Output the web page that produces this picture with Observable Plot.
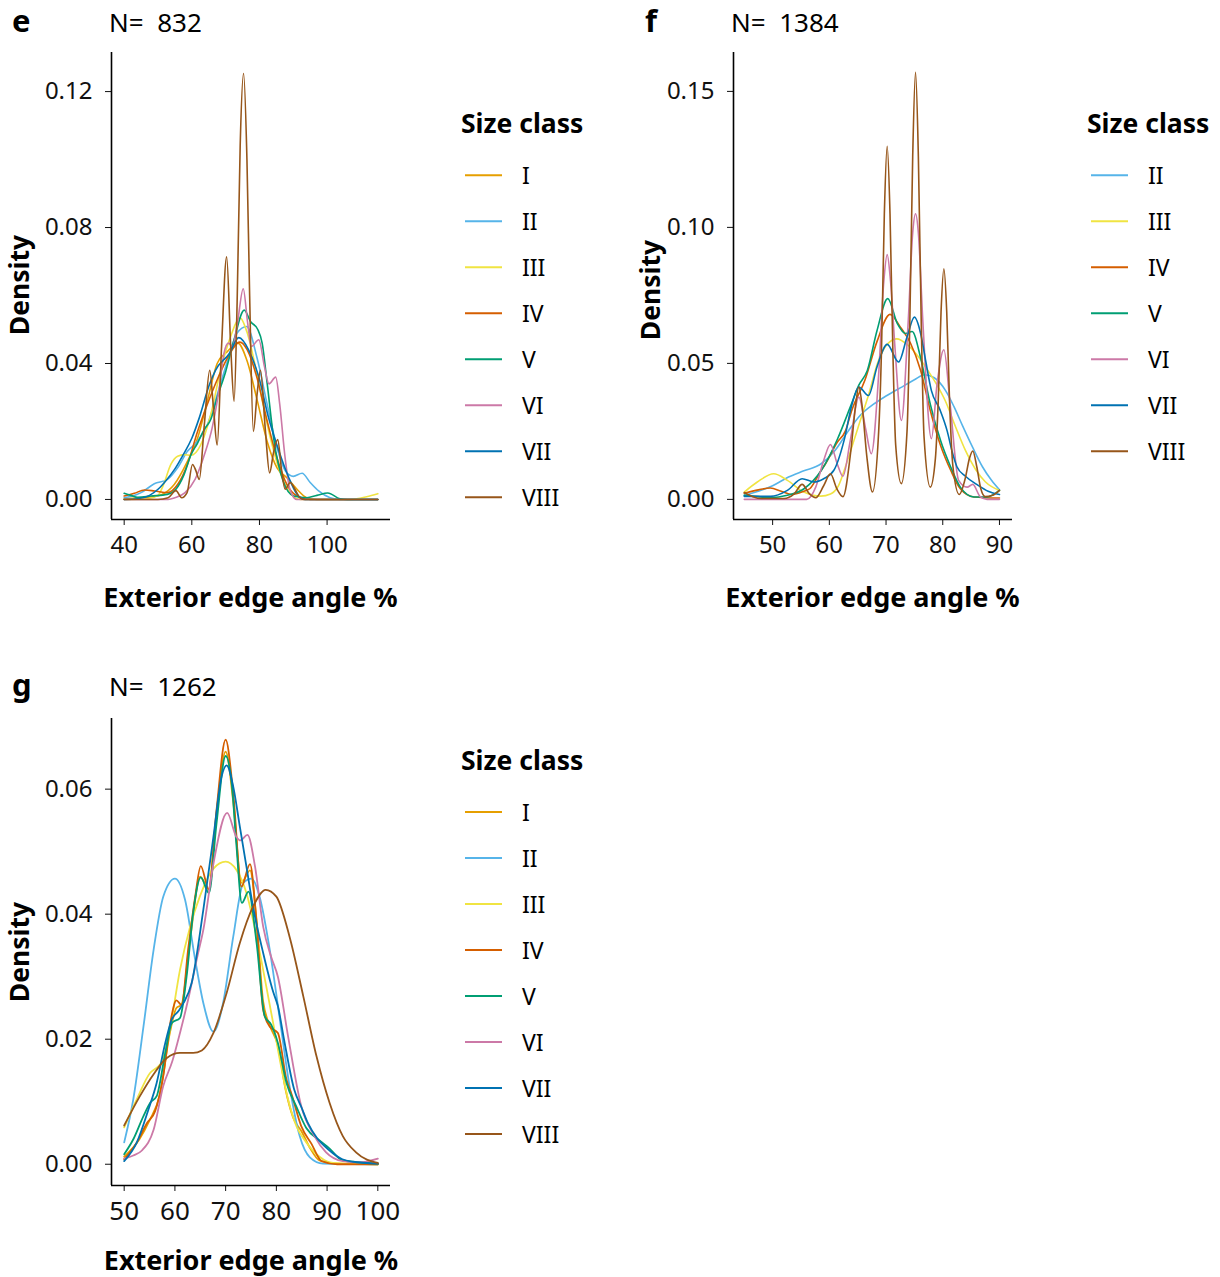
<!DOCTYPE html>
<html><head><meta charset="utf-8">
<script src="https://cdn.jsdelivr.net/npm/d3@7"></script>
<script src="https://cdn.jsdelivr.net/npm/@observablehq/plot@0.6"></script>
<style>
body{margin:0;background:#fff;}
#page{position:relative;width:1220px;height:1277px;overflow:hidden;background:#fff;}
#page svg{position:absolute;}
</style></head><body><div id="page"></div>
<script>
// ---------- categories & colours ----------
const sizeClasses = ["I","II","III","IV","V","VI","VII","VIII"];
const classColors = ["#E69F00","#56B4E9","#F0E442","#D55E00","#009E73","#CC79A7","#0072B2","#97561A"];

// ---------- panel e (N = 832) : [angle, density] ----------
const e_I = [[40,0.0003],[45,0.0004],[48,0.0008],[51,0.0014],[54.8,0.0044],[58.7,0.0112],[61.7,0.018],[64.6,0.029],[67.5,0.040],[70.5,0.0435],[73.6,0.046],[76.4,0.0406],[79.3,0.0293],[82.3,0.017],[85.2,0.0093],[88.1,0.0064],[91.1,0.003],[94,0.0005],[97,0],[115,0]];
const e_II = [[40,0.0005],[42.5,0.001],[45,0.002],[48.9,0.0046],[52.8,0.0059],[55.8,0.0093],[58.7,0.0142],[61.7,0.0171],[64.6,0.022],[67.5,0.0308],[70.5,0.0406],[73.4,0.049],[76.2,0.0509],[79.3,0.0416],[82.3,0.0279],[85.2,0.0152],[87.8,0.0082],[90,0.0068],[92.6,0.0077],[95,0.005],[97.5,0.0025],[100.9,0.0005],[104,0],[115,0]];
const e_III = [[40,0],[47,0.0002],[50,0.0012],[51.5,0.004],[53.8,0.0103],[55.8,0.0127],[57.8,0.0132],[59.7,0.013],[62.6,0.016],[65.6,0.025],[68.5,0.038],[71.5,0.048],[74.2,0.0535],[76.4,0.049],[79.3,0.0367],[82.3,0.022],[85.2,0.0108],[88.1,0.0034],[92,0],[107,0],[111.7,0.0008],[115,0.0017]];
const e_IV = [[40,0.001],[43,0.0018],[46,0.0028],[49,0.0025],[52.8,0.002],[55.8,0.0044],[58.7,0.0103],[61.7,0.020],[64.6,0.028],[67.5,0.0352],[70.5,0.0416],[74.2,0.0463],[76.4,0.044],[79.3,0.0357],[82.3,0.023],[85.2,0.0122],[88.1,0.0044],[91.1,0.001],[95,0],[115,0]];
const e_V = [[40,0.0018],[42,0.0012],[44,0.0006],[47.9,0.001],[52.8,0.0015],[55.3,0.003],[57.7,0.0073],[59.7,0.013],[61.7,0.0166],[63.6,0.0205],[65.6,0.0235],[67.5,0.030],[70,0.0376],[72.5,0.047],[75.5,0.0557],[77.4,0.0523],[79.5,0.050],[80.8,0.046],[82.3,0.034],[84.2,0.018],[87,0.0054],[90.1,0.001],[94,0.0005],[97,0.0012],[100.2,0.0019],[103.8,0.0002],[106,0],[115,0]];
const e_VI = [[40,0],[53,0],[55,0.0005],[58,0.002],[61,0.006],[64,0.014],[66,0.021],[68,0.032],[69.5,0.043],[70.8,0.046],[72,0.045],[73.5,0.052],[75.2,0.062],[76.5,0.052],[77.6,0.045],[79.8,0.047],[81.5,0.039],[82.8,0.034],[84.8,0.036],[86,0.028],[87.5,0.013],[89,0.003],[91,0],[115,0]];
const e_VII = [[40,0],[44,0.0002],[47.5,0.0012],[50,0.003],[52.4,0.0056],[55,0.009],[57.3,0.0129],[60,0.018],[62.2,0.024],[65.1,0.0335],[67,0.038],[71,0.0428],[73.9,0.0476],[76.9,0.0438],[79.8,0.036],[82.7,0.024],[85.7,0.0144],[88.6,0.0066],[91,0.0017],[93.5,0],[115,0]];
const e_VIII = [[40,0],[50,0],[53,0.0005],[55.3,0.0026],[57,0.0005],[58.6,0.002],[60.2,0.0103],[61.2,0.0085],[62.2,0.0059],[63.7,0.022],[65.3,0.038],[66.4,0.027],[67.5,0.016],[68.8,0.045],[70.3,0.0714],[71.5,0.045],[72.5,0.0289],[73.4,0.058],[74.3,0.104],[75.3,0.1253],[76.3,0.1],[77.1,0.06],[78.2,0.020],[79.3,0.031],[80.3,0.038],[81.7,0.021],[83,0.0078],[84.2,0.014],[85.4,0.0176],[86.5,0.009],[87.6,0.003],[89.1,0.005],[90.5,0.003],[92,0.0005],[93.5,0],[115,0]];

// ---------- panel f (N = 1384) ----------
const f_II = [[45,0.0015],[47.5,0.003],[50,0.005],[52.8,0.0082],[55.5,0.0105],[58.5,0.013],[61,0.018],[63.3,0.025],[65.5,0.031],[67.8,0.035],[70,0.038],[72.5,0.041],[75,0.044],[76.8,0.0458],[78.5,0.0447],[80.5,0.040],[82,0.034],[83.5,0.027],[85.3,0.019],[87,0.012],[88.6,0.007],[90,0.0035]];
const f_III = [[45,0.0027],[47.3,0.0064],[50.2,0.0094],[52.6,0.007],[55.5,0.0027],[58.5,0.0012],[60.2,0.002],[61.6,0.005],[63,0.013],[65,0.026],[67,0.039],[68.5,0.050],[70.2,0.057],[71.9,0.059],[73.7,0.057],[75.5,0.053],[77.5,0.047],[79,0.042],[80.5,0.036],[82.2,0.027],[84,0.018],[85.8,0.011],[87.5,0.0065],[90,0.0033]];
const f_IV = [[45,0.0022],[47.5,0.0035],[49.6,0.0042],[51.5,0.003],[53.4,0.0018],[55.5,0.003],[56.6,0.004],[58.5,0.0105],[59.3,0.013],[61.4,0.021],[62.8,0.025],[64,0.033],[66.3,0.044],[68.4,0.058],[70.7,0.068],[72.5,0.0634],[74.3,0.0575],[76.1,0.0474],[77.8,0.0327],[79.6,0.0199],[81.4,0.0107],[83.1,0.0039],[85.5,0.0009],[90,0.0005]];
const f_V = [[45,0.0015],[47.5,0.001],[49.6,0.0006],[52.6,0.0015],[55.6,0.004],[58.6,0.0107],[61.4,0.022],[63.7,0.034],[65.2,0.042],[66.7,0.0474],[68.4,0.062],[70.3,0.0738],[72,0.0646],[73.4,0.061],[74.6,0.0617],[76.1,0.052],[77.8,0.035],[79.6,0.0217],[81.4,0.0119],[83.1,0.0045],[85.5,0.0009],[87.8,0.0009],[90,0.0033]];
const f_VI = [[45,0],[56,0],[57.6,0.0045],[59,0.0143],[60.2,0.0202],[61.4,0.013],[62.4,0.0085],[63.7,0.0217],[65.2,0.0376],[66.4,0.026],[67.4,0.0168],[68.7,0.046],[69.6,0.08],[70.2,0.090],[70.8,0.08],[71.6,0.055],[72.7,0.029],[73.9,0.065],[74.7,0.098],[75.2,0.105],[75.7,0.098],[76.5,0.065],[78,0.0223],[79,0.0425],[80.2,0.055],[81.3,0.035],[82.8,0.007],[84.3,0.0045],[85.3,0.0055],[86.6,0.001],[87.8,0],[90,0]];
const f_VII = [[45,0.0011],[49.6,0.0011],[52.6,0.0033],[55.2,0.0076],[57.3,0.0064],[59,0.0076],[60.8,0.0107],[62.6,0.0217],[64,0.035],[65.2,0.0413],[66.9,0.0382],[68.4,0.0487],[70.2,0.057],[72.2,0.0505],[73.7,0.0597],[75,0.067],[76.1,0.061],[76.9,0.052],[78,0.040],[79.5,0.033],[80.8,0.025],[81.6,0.018],[82.5,0.012],[84,0.0085],[86,0.0055],[88,0.003],[90,0.0018]];
const f_VIII = [[45,0.0025],[46.5,0.001],[48,0.0003],[52,0.0003],[53.8,0.002],[55.2,0.0055],[56.5,0.002],[57.6,0.0006],[59,0.005],[60.2,0.0094],[61.3,0.004],[62.4,0.001],[63.8,0.018],[64.6,0.034],[65.2,0.0413],[65.8,0.034],[66.6,0.016],[67.6,0.0027],[68.7,0.025],[69.2,0.055],[69.7,0.105],[70.2,0.1298],[70.7,0.105],[71.2,0.055],[71.7,0.02],[72.7,0.0058],[73.7,0.025],[74.2,0.066],[74.7,0.126],[75.2,0.157],[75.7,0.126],[76.2,0.066],[76.7,0.023],[77.8,0.0045],[78.7,0.015],[79.2,0.036],[79.7,0.069],[80.2,0.0848],[80.7,0.069],[81.2,0.036],[81.8,0.012],[82.9,0.0018],[84,0.008],[84.7,0.015],[85.3,0.0178],[86,0.012],[86.7,0.004],[87.5,0.001],[88.8,0.0015],[90,0.0033]];

// ---------- panel g (N = 1262) ----------
const g_I = [[50,0.0012],[53,0.004],[55,0.007],[57,0.011],[59,0.021],[60.3,0.025],[61.3,0.0255],[63,0.036],[65,0.046],[66.6,0.044],[68.2,0.056],[70,0.066],[71.5,0.058],[73.1,0.045],[74.8,0.047],[76.1,0.039],[77.4,0.026],[78.8,0.022],[80.3,0.019],[81.8,0.012],[83.3,0.0075],[85,0.0052],[86.7,0.0025],[88.5,0.0006],[92,0.0001],[100,0]];
const g_II = [[50,0.0035],[51.8,0.0104],[53.8,0.022],[55.8,0.0343],[57.7,0.0428],[60,0.0457],[62,0.0423],[64,0.0327],[65.6,0.0258],[67.6,0.0212],[69.5,0.0258],[71.5,0.0364],[73.5,0.045],[75.1,0.0457],[76.7,0.0428],[78.7,0.0343],[80.7,0.0231],[82.6,0.0125],[84.6,0.0045],[86.6,0.0011],[89.2,0.0001],[100,0]];
const g_III = [[50,0.0059],[52.5,0.0104],[55.1,0.0146],[56.5,0.0155],[57.5,0.0165],[59,0.0215],[61,0.0311],[63,0.038],[64.9,0.0428],[67.6,0.0473],[70,0.0484],[72.1,0.0471],[74.1,0.0434],[76.1,0.0364],[78,0.0285],[79.5,0.022],[80.5,0.0175],[82.3,0.0104],[84,0.006],[85.9,0.0035],[88.5,0.0012],[91.2,0.0002],[100,0]];
const g_IV = [[50,0.0008],[52.5,0.0035],[54.5,0.0066],[56.1,0.0085],[57.7,0.0141],[59.2,0.0231],[60.3,0.0262],[61.3,0.0255],[62.6,0.0343],[64,0.0428],[65.1,0.0477],[66.7,0.0439],[68.2,0.0566],[70,0.0679],[71.5,0.0593],[73.1,0.0444],[74.8,0.048],[76.1,0.0386],[77.4,0.0247],[78.7,0.022],[80.3,0.021],[82,0.0135],[83,0.0112],[84.9,0.0061],[86.9,0.0033],[88.9,0.0005],[92,0],[100,0]];
const g_V = [[50,0.0016],[51.8,0.004],[53.8,0.0077],[55.2,0.0099],[56.4,0.0109],[58.1,0.0178],[59.4,0.0226],[61,0.0234],[62.3,0.030],[63.6,0.0402],[65.1,0.0459],[66.7,0.0434],[68.2,0.0545],[70,0.0653],[71.2,0.0609],[72.1,0.0513],[73.2,0.0418],[74.5,0.0436],[76.1,0.0354],[77.7,0.0237],[79,0.0223],[80.3,0.0194],[82,0.013],[83.9,0.0093],[85.9,0.0058],[88.5,0.0038],[90.5,0.0025],[93.1,0.0006],[100,0.0001]];
const g_VI = [[50,0.0009],[51.8,0.0014],[53.5,0.0022],[55.8,0.0055],[57.7,0.0125],[59.5,0.0165],[61,0.021],[62.6,0.0263],[64.5,0.0335],[65.6,0.0375],[67.6,0.0481],[70.3,0.0562],[72.1,0.0524],[72.9,0.0518],[74.3,0.0527],[75.8,0.0476],[77.4,0.038],[79,0.0331],[80.3,0.030],[82.3,0.0205],[84.9,0.0093],[87.5,0.0045],[89.8,0.0019],[93.1,0.0005],[96.4,0.0003],[100,0.0009]];
const g_VII = [[50,0.0005],[52.5,0.0035],[54.8,0.0088],[56.4,0.013],[58.1,0.0194],[59.3,0.023],[60.7,0.0245],[61.7,0.0258],[63.3,0.029],[65.6,0.0407],[67.6,0.0524],[69.2,0.062],[70.2,0.0638],[71.5,0.0604],[72.8,0.054],[74.1,0.0476],[75.4,0.0412],[77.4,0.0338],[79.4,0.0275],[80.3,0.0253],[81.5,0.02],[83.5,0.012],[85,0.009],[86.2,0.0066],[88,0.0042],[90.2,0.0024],[93,0.0008],[95.1,0.0004],[100,0.0001]];
const g_VIII = [[50,0.0062],[53.1,0.0109],[55.8,0.0144],[58.4,0.017],[61,0.0178],[63.6,0.0178],[65.3,0.0182],[67.6,0.021],[70.2,0.0274],[72.8,0.0354],[75.4,0.0412],[77.9,0.0439],[80,0.0428],[82.6,0.0364],[85.3,0.0269],[87.9,0.0173],[90.5,0.0098],[93.1,0.0045],[95.7,0.0019],[100,0.0002]];

// ---------- axes ----------
const eXTicks = [40,60,80,100], eYTicks = [0,0.04,0.08,0.12];
const fXTicks = [50,60,70,80,90], fYTicks = [0,0.05,0.10,0.15];
const gXTicks = [50,60,70,80,90,100], gYTicks = [0,0.02,0.04,0.06];
const eXDomain = [36.25,118.75], eYDomain = [-0.0059,0.1315];
const fXDomain = [43.1,92.3], fYDomain = [-0.0074,0.1643];
const gXDomain = [47.5,102.5], gYDomain = [-0.0034,0.0713];
const panelLetters = ["e","f","g"];
const panelN = [832,1384,1262];
const xTitle = "Exterior edge angle %";
const yTitle = "Density";
const legendTitle = "Size class";

// ---------- build ----------
const page = document.getElementById("page");
function table(seriesList, names){
  const rows = [];
  seriesList.forEach((s,i)=> s.forEach(([x,y])=> rows.push({cls:names[i], x, y})));
  return rows;
}
const panels = [
  {left:0, top:0, xDomain:eXDomain, yDomain:eYDomain, xTicks:eXTicks, yTicks:eYTicks, sw:1.6, fontX:24,
   names:sizeClasses, series:[e_I,e_II,e_III,e_IV,e_V,e_VI,e_VII,e_VIII]},
  {left:622, top:0, xDomain:fXDomain, yDomain:fYDomain, xTicks:fXTicks, yTicks:fYTicks, sw:1.6, fontX:24,
   names:sizeClasses.slice(1), series:[f_II,f_III,f_IV,f_V,f_VI,f_VII,f_VIII]},
  {left:0, top:666, xDomain:gXDomain, yDomain:gYDomain, xTicks:gXTicks, yTicks:gYTicks, sw:1.8, fontX:26,
   names:sizeClasses, series:[g_I,g_II,g_III,g_IV,g_V,g_VI,g_VII,g_VIII]}
];
panels.forEach(p=>{
  const data = table(p.series, p.names);
  const svg = Plot.plot({
    width: 420, height: 580, marginLeft: 111, marginRight: 30, marginTop: 52, marginBottom: 61,
    style: {fontFamily: "'Noto Sans', sans-serif", fontSize: "24px", color: "#111", background: "transparent", overflow: "visible"},
    x: {domain: p.xDomain, ticks: p.xTicks, tickSize: 6, tickPadding: 10, label: null},
    y: {domain: p.yDomain, ticks: p.yTicks, tickFormat: d3.format(".2f"), tickSize: 6, tickPadding: 13, label: null},
    color: {domain: sizeClasses, range: classColors},
    marks: [
      Plot.line(data, {x:"x", y:"y", z:"cls", stroke:"cls", curve:"monotone-x", strokeWidth:p.sw}),
      Plot.ruleX([p.xDomain[0]], {stroke:"#000", strokeWidth:1.6}),
      Plot.ruleY([p.yDomain[0]], {stroke:"#000", strokeWidth:1.6})
    ]
  });
  svg.querySelectorAll('[aria-label^="x-axis"] text').forEach(t=> t.setAttribute("font-size", p.fontX));
  svg.style.left = p.left + "px";
  svg.style.top = p.top + "px";
  page.appendChild(svg);
});

// ---------- annotations & legends ----------
const ov = d3.select(page).append("svg").attr("width",1220).attr("height",1277)
  .style("left","0px").style("top","0px").style("font-family","'Noto Sans', sans-serif").style("fill","#000");
const anno = [
  {lx:12, ly:32, nx:109, ny:31.5, cx:250.5, tx:607, dx:29, dy:285, legX:461, legY:133.3, names:sizeClasses},
  {lx:645, ly:32, nx:731, ny:31.5, cx:872.5, tx:607, dx:660, dy:290, legX:1087, legY:133.3, names:sizeClasses.slice(1)},
  {lx:12, ly:696, nx:109, ny:695.5, cx:251, tx:1270, dx:29, dy:952, legX:461, legY:770, names:sizeClasses}
];
anno.forEach((a,i)=>{
  ov.append("text").attr("x",a.lx).attr("y",a.ly).attr("font-size",31).attr("font-weight","bold").text(panelLetters[i]);
  ov.append("text").attr("x",a.nx).attr("y",a.ny).attr("font-size",26).style("white-space","pre").text("N=  " + panelN[i]);
  ov.append("text").attr("x",a.cx).attr("y",a.tx).attr("font-size",27).attr("font-weight","bold").attr("text-anchor","middle").text(xTitle);
  ov.append("text").attr("transform",`translate(${a.dx},${a.dy}) rotate(-90)`).attr("font-size",26.5).attr("font-weight","bold").attr("text-anchor","middle").text(yTitle);
  ov.append("text").attr("x",a.legX).attr("y",a.legY).attr("font-size",26.5).attr("font-weight","bold").text(legendTitle);
  a.names.forEach((nm,j)=>{
    const cy = a.legY + 42 + 46*j;
    const col = classColors[sizeClasses.indexOf(nm)];
    ov.append("line").attr("x1",a.legX+4).attr("x2",a.legX+41).attr("y1",cy).attr("y2",cy).attr("stroke",col).attr("stroke-width",2);
    ov.append("text").attr("x",a.legX+61).attr("y",cy+9).attr("font-size",23).text(nm);
  });
});
</script></body></html>
